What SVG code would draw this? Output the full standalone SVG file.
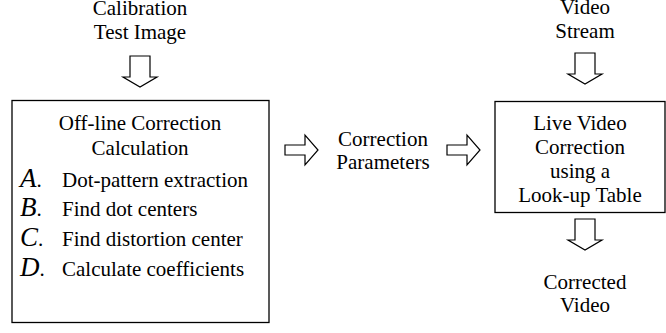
<svg xmlns="http://www.w3.org/2000/svg" width="666" height="333" viewBox="0 0 666 333">
<style>
.t,.b{font-family:'Liberation Serif',serif;fill:#000;}
.t{font-size:21px;text-anchor:middle;}
.b{font-size:21px;}
.l{font-size:27px;font-style:italic;}
.box{fill:#fff;stroke:#000;stroke-width:1.3;}
.ar{fill:#fff;stroke:#000;stroke-width:1.2;stroke-linejoin:miter;}
</style>
<defs>
<path id="down" d="M-10,0 H10 V21 H17 L0,31 L-17,21 H-10 Z"/>
<path id="right" d="M0,-5 H20 V-15 L33,0 L20,15 V5 H0 Z"/>
</defs>
<rect width="666" height="333" fill="#fff"/>
<g id="calib">
<text class="t" x="140" y="15">Calibration</text>
<text class="t" x="140" y="39">Test Image</text>
</g>
<g id="stream">
<text class="t" x="585" y="14">Video</text>
<text class="t" x="585" y="38">Stream</text>
</g>
<g id="offline">
<rect class="box" x="12" y="100.5" width="257" height="222"/>
<text class="t" x="140" y="130">Off-line Correction</text>
<text class="t" x="140" y="155">Calculation</text>
<text class="b" x="20" y="187"><tspan class="l">A</tspan>.</text><text class="b" x="62" y="187">Dot-pattern extraction</text>
<text class="b" x="20" y="216"><tspan class="l">B</tspan>.</text><text class="b" x="62" y="216">Find dot centers</text>
<text class="b" x="20" y="246"><tspan class="l">C</tspan>.</text><text class="b" x="62" y="246">Find distortion center</text>
<text class="b" x="20" y="276"><tspan class="l">D</tspan>.</text><text class="b" x="62" y="276">Calculate coefficients</text>
</g>
<g id="params">
<text class="t" x="383" y="146">Correction</text>
<text class="t" x="383" y="169">Parameters</text>
</g>
<g id="live">
<rect class="box" x="495" y="101.5" width="170" height="111"/>
<text class="t" x="580" y="130">Live Video</text>
<text class="t" x="580" y="154">Correction</text>
<text class="t" x="580" y="178">using a</text>
<text class="t" x="580" y="202">Look-up Table</text>
</g>
<g id="corrected">
<text class="t" x="585" y="289">Corrected</text>
<text class="t" x="585" y="312">Video</text>
</g>
<g id="connectors">
<use href="#down" class="ar" x="140" y="56"/>
<use href="#down" class="ar" x="585" y="53"/>
<use href="#down" class="ar" x="585" y="219"/>
<use href="#right" class="ar" x="285" y="150"/>
<use href="#right" class="ar" x="447" y="150"/>
</g>
</svg>
